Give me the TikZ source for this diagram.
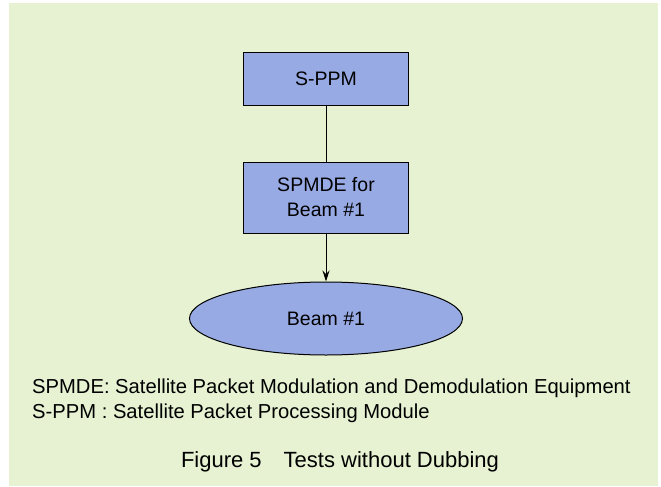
\documentclass[tikz,border=0pt]{standalone}
\usepackage{fontspec}
\setmainfont{Liberation Sans}
\usetikzlibrary{arrows.meta,positioning,shapes.geometric}
\definecolor{bggreen}{RGB}{230,242,210}
\definecolor{boxblue}{RGB}{152,170,227}

\begin{document}
\begin{tikzpicture}[
        x=1pt, y=-1pt,
        box/.style={draw, fill=boxblue, line width=1pt, minimum width=165pt, minimum height=52pt, align=center, font=\fontsize{19.5}{25}\selectfont},
        oval/.style={ellipse, draw, fill=boxblue, line width=1pt, minimum width=273pt, minimum height=73pt, font=\fontsize{19.5}{25}\selectfont},
        legend/.style={anchor=west, inner sep=0pt, font=\fontsize{20.2}{25}\selectfont},
        >={Stealth[length=11pt,width=7pt]}
    ]
    \useasboundingbox (0,0) rectangle (661,487);
    \fill[bggreen] (9,3) rectangle (658,486);

    \node[box] (sppm) at (326,79) {S-PPM};
    \node[box, minimum height=71pt] (spmde) at (326,197.5) {SPMDE for\\Beam \#1};
    \node[oval] (beam) at (326,318.5) {Beam \#1};

    \draw[line width=1pt] (sppm) -- (spmde);
    \draw[->, line width=1pt] (spmde) -- (beam);

    \node[legend] (leg1) at (32,388) {SPMDE: Satellite Packet Modulation and Demodulation Equipment};
    \node[legend] (leg2) at (32,413) {S-PPM : Satellite Packet Processing Module};

    \node[font=\fontsize{22}{25}\selectfont] (caption) at (340,462) {Figure 5\quad Tests without Dubbing};
\end{tikzpicture}
\end{document}
